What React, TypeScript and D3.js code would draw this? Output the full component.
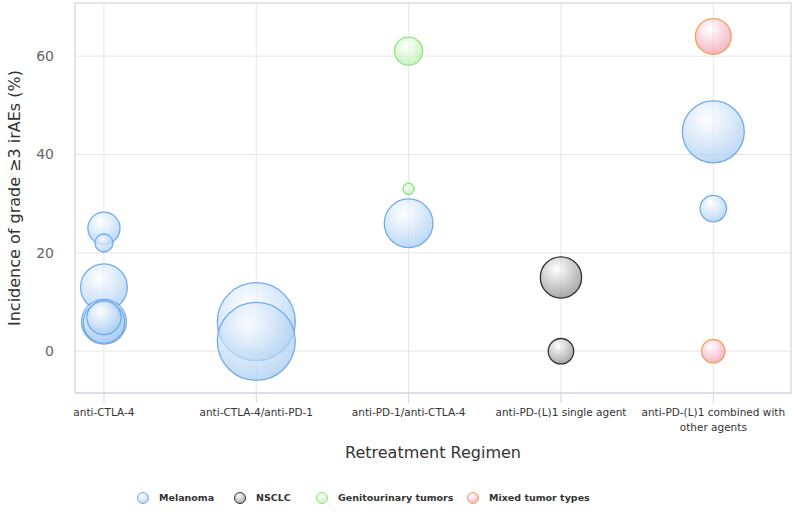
import React, { useEffect, useRef } from 'react';
import * as d3 from 'd3';

const W = 797;
const H = 513;

const categories = [
  'anti-CTLA-4',
  'anti-CTLA-4/anti-PD-1',
  'anti-PD-1/anti-CTLA-4',
  'anti-PD-(L)1 single agent',
  'anti-PD-(L)1 combined with other agents',
];
const yTicks = [0, 20, 40, 60];

// [category index, incidence %, patients (bubble size)]
const melanoma = [
  [0, 25, 17], [0, 22, 5.3], [0, 13, 36], [0, 6, 33], [0, 5.8, 28], [0, 6.8, 19],
  [1, 6, 100], [1, 2, 100],
  [2, 26, 39],
  [4, 44.6, 63], [4, 29, 11.5],
];
const nsclc = [[3, 15, 28], [3, 0, 10.6]];
const genitourinary = [[2, 61, 13], [2, 33, 2.1]];
const mixed = [[4, 64, 21], [4, 0, 9]];

const seriesNames = ['Melanoma', 'NSCLC', 'Genitourinary tumors', 'Mixed tumor types'];
const seriesData = [melanoma, nsclc, genitourinary, mixed];
const strokes = ['#72ace8', '#333333', '#8ee67c', '#f5a05a'];
const fills = ['#a3c9f1', '#858585', '#b2eea6', '#f097ad'];

const margin = { left: 75, right: 6, top: 3, bottom: 120 };

export default function App() {
  const ref = useRef<SVGSVGElement>(null);

  useEffect(() => {
    const svg = d3.select(ref.current);
    svg.selectAll('*').remove();

    const x = d3.scaleLinear().domain([-0.19, 4.51]).range([margin.left, W - margin.right]);
    const y = d3.scaleLinear().domain([-8.5, 70.8]).range([H - margin.bottom, margin.top]);
    const r = d3.scaleSqrt().domain([0, 100]).range([0, 39]);

    const font = '"DejaVu Sans", Verdana, sans-serif';
    const defs = svg.append('defs');
    fills.forEach((c, i) => {
      const g = defs.append('radialGradient').attr('id', 'g' + i)
        .attr('cx', 0.4).attr('cy', 0.3).attr('r', 0.7);
      g.append('stop').attr('offset', '0%').attr('stop-color', '#ffffff').attr('stop-opacity', 0.7);
      g.append('stop').attr('offset', '100%').attr('stop-color', c).attr('stop-opacity', 0.7);
    });

    const x0 = x.range()[0], x1 = x.range()[1];
    const yTop = y.range()[1], yBot = y.range()[0];

    // grid
    svg.append('g').selectAll('line').data(yTicks).join('line')
      .attr('x1', x0).attr('x2', x1)
      .attr('y1', d => y(d)).attr('y2', d => y(d))
      .attr('stroke', '#e6e6e6');
    svg.append('g').selectAll('line').data(categories).join('line')
      .attr('x1', (d, i) => x(i)).attr('x2', (d, i) => x(i))
      .attr('y1', yTop).attr('y2', yBot)
      .attr('stroke', '#e6e6e6');

    // plot border + axis line
    svg.append('rect').attr('x', x0).attr('y', yTop)
      .attr('width', x1 - x0).attr('height', yBot - yTop)
      .attr('fill', 'none').attr('stroke', '#cccccc');
    svg.append('line').attr('x1', x0).attr('x2', x1).attr('y1', yBot).attr('y2', yBot)
      .attr('stroke', '#ccd6eb');
    svg.append('g').selectAll('line').data(categories).join('line')
      .attr('x1', (d, i) => x(i)).attr('x2', (d, i) => x(i))
      .attr('y1', yBot).attr('y2', yBot + 10)
      .attr('stroke', '#ccd6eb');

    // y tick labels
    svg.append('g').selectAll('text').data(yTicks).join('text')
      .attr('x', x0 - 21).attr('y', d => y(d)).attr('dy', '0.35em')
      .attr('text-anchor', 'end').attr('font-family', font).attr('font-size', 14)
      .attr('fill', '#666666').text(d => d);

    // x labels
    const lab = svg.append('g').selectAll('text').data(categories).join('text')
      .attr('text-anchor', 'middle').attr('font-family', font).attr('font-size', 10.5)
      .attr('fill', '#333333');
    lab.each(function (d, i) {
      const t = d3.select(this);
      const lines = d.indexOf('combined with') >= 0 ? ['anti-PD-(L)1 combined with', 'other agents'] : [d];
      lines.forEach((l, j) => {
        t.append('tspan').attr('x', x(i)).attr('y', yBot + 23 + j * 14.5).text(l);
      });
    });

    // axis titles
    svg.append('text').attr('x', (x0 + x1) / 2).attr('y', 458)
      .attr('text-anchor', 'middle').attr('font-family', font).attr('font-size', 16)
      .attr('fill', '#333333').text('Retreatment Regimen');
    svg.append('text')
      .attr('transform', `translate(20,${(yTop + yBot) / 2}) rotate(-90)`)
      .attr('text-anchor', 'middle').attr('font-family', font).attr('font-size', 16)
      .attr('fill', '#333333').text('Incidence of grade \u22653 irAEs (%)');

    // bubbles
    seriesData.forEach((data, si) => {
      svg.append('g').selectAll('circle').data(data).join('circle')
        .attr('cx', d => x(d[0])).attr('cy', d => y(d[1])).attr('r', d => r(d[2]))
        .attr('fill', `url(#g${si})`).attr('stroke', strokes[si]).attr('stroke-width', 1.3);
    });

    // legend
    const legX = [143, 240, 322, 473];
    const leg = svg.append('g').selectAll('g').data(seriesNames).join('g')
      .attr('transform', (d, i) => `translate(${legX[i]},498)`);
    leg.append('circle').attr('r', 5.5)
      .attr('fill', (d, i) => `url(#g${i})`).attr('stroke', (d, i) => strokes[i]);
    leg.append('text').attr('x', 16).attr('dy', '0.35em')
      .attr('font-family', font).attr('font-size', 9.5).attr('font-weight', 'bold')
      .attr('fill', '#333333').text(d => d);
  }, []);

  return (
    <svg ref={ref} width={W} height={H} style={{ position: 'absolute', left: 0, top: 0, background: '#fff' }} />
  );
}
